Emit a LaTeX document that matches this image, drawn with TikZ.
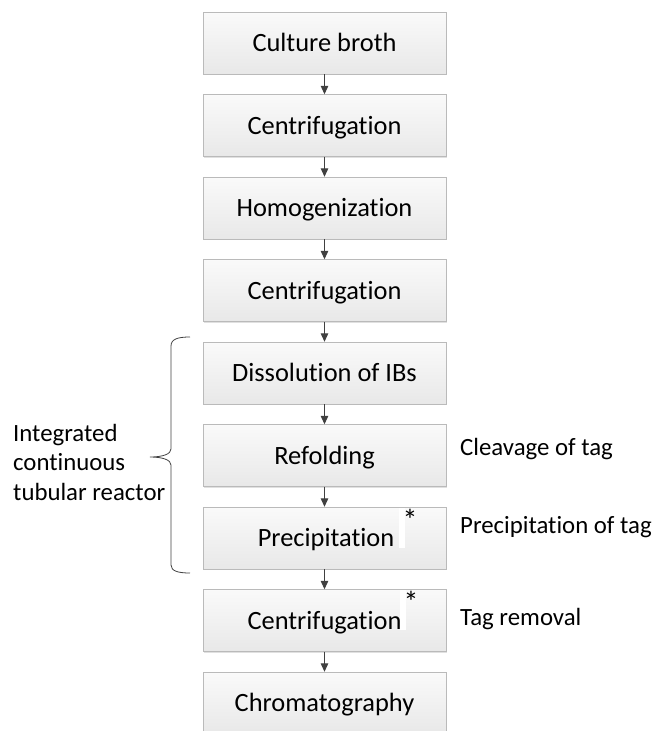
\documentclass[tikz,border=0pt]{standalone}
\usepackage{fontspec}
\setmainfont{Carlito}[Ligatures=NoCommon]
\usetikzlibrary{arrows.meta,shadows}
\begin{document}
\begin{tikzpicture}[x=1pt,y=-1pt,
  stepbox/.style={draw=black!27, top color=white!98!black, bottom color=white!91!black,
    minimum width=243pt, minimum height=62pt, inner sep=0pt,
    font=\fontsize{26.4}{32}\selectfont, text height=19.8pt, text depth=2.8pt,
    drop shadow={shadow xshift=1.2pt, shadow yshift=-1.2pt, opacity=0.3, fill=black!40}},
  arr/.style={draw=black!75, line width=1.1pt, -{Triangle[width=7.5pt,length=8.5pt]}},
  sidelabel/.style={inner sep=0pt, font=\fontsize{24.8}{29.5}\selectfont},
  bracestyle/.style={draw=black!75, line width=0.8pt},
  star/.style={inner sep=0pt, font=\fontsize{30}{34}\selectfont},
  gap/.style={fill=white, draw=none}
]
\useasboundingbox (0,0) rectangle (657,731);
\node[stepbox] (b1) at (324.5,43) {Culture broth};
\node[stepbox] (b2) at (324.5,125.5) {Centrifugation};
\node[stepbox] (b3) at (324.5,208) {Homogenization};
\node[stepbox] (b4) at (324.5,290.5) {Centrifugation};
\node[stepbox] (b5) at (324.5,373) {Dissolution of IBs};
\node[stepbox] (b6) at (324.5,455.5) {Refolding};
\node[stepbox] (b7) at (324.5,538) {\hspace*{3pt}Precipitation};
\node[stepbox] (b8) at (324.5,620.5) {Centrifugation};
\node[stepbox] (b9) at (324.5,703) {Chromatography};
% white gaps and asterisks
\fill[gap] (399,508) rectangle (405,548);
\fill[gap] (400,590) rectangle (406,630);
\node[star, anchor=base] (s7) at (410,530) {*};
\node[star, anchor=base] (s8) at (411,612) {*};
% arrows
\draw[arr] (b1.south) -- (b2.north);
\draw[arr] (b2.south) -- (b3.north);
\draw[arr] (b3.south) -- (b4.north);
\draw[arr] (b4.south) -- (b5.north);
\draw[arr] (b5.south) -- (b6.north);
\draw[arr] (b6.south) -- (b7.north);
\draw[arr] (b7.south) -- (b8.north);
\draw[arr] (b8.south) -- (b9.north);
% brace
\coordinate (btop) at (190,337);
\coordinate (btip) at (150,457);
\coordinate (bbot) at (190,573);
\draw[bracestyle] (btop) .. controls (178,337) and (171,339) .. (171,346) -- (171,449)
  .. controls (171,454) and (163,457) .. (btip)
  .. controls (163,457) and (171,460) .. (171,465) -- (171,565)
  .. controls (171,571) and (178,573) .. (bbot);
% side labels
\node[sidelabel, align=left, anchor=base west] (reactor) at (13,500) {Integrated\\continuous\\tubular reactor};
\node[sidelabel, anchor=base west] (l6) at (460,455) {Cleavage of tag};
\node[sidelabel, anchor=base west] (l7) at (460,533) {Precipitation of tag};
\node[sidelabel, anchor=base west] (l8) at (460,625) {Tag removal};
\end{tikzpicture}
\end{document}
